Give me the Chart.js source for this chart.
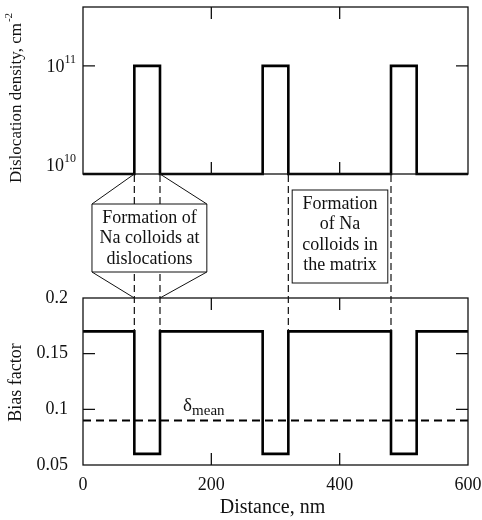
<!DOCTYPE html>
<html>
<head>
<meta charset="utf-8">
<script src="https://cdn.jsdelivr.net/npm/chart.js@4.4.0/dist/chart.umd.min.js"></script>
<style>
  html, body { margin: 0; padding: 0; background: #fff; }
  #wrap { width: 482px; height: 520px; }
</style>
</head>
<body>
<div id="wrap"><canvas id="chart" width="482" height="520"></canvas></div>
<script>
// ─── Data ────────────────────────────────────────────────────
const distance = [0, 80, 120, 280, 320, 480, 520, 600];
const density = [1e10, 1e11, 1e10, 1e11, 1e10, 1e11, 1e10, 1e10];
const bias = [0.17, 0.06, 0.17, 0.06, 0.17, 0.06, 0.17, 0.17];
const meanDistance = [0, 600];
const meanBias = [0.09, 0.09];

const distanceTicks = [0, 200, 400, 600];
const densityTicks = [1e10, 1e11];
const biasTicks = [0.05, 0.1, 0.15, 0.2];

// x of the zone edges that get the dashed guide lines
const dislocationZone = [80, 120];
const matrixZone = [320, 480];

const serif = '"Liberation Serif", "Times New Roman", serif';
const ink = '#111';

// ─── Frame, ticks and notes ──────────────────────────────────
const framePlugin = {
  id: 'frame',
  afterDraw(chart) {
    const { ctx, chartArea: ca, scales } = chart;
    const x = scales.x, yDen = scales.yDen, yBias = scales.yBias;
    const tick = 12;
    ctx.save();
    ctx.strokeStyle = ink;
    ctx.fillStyle = ink;

    // panel boxes + inner ticks
    const panels = [
      { s: yDen, ticks: [1e11] },
      { s: yBias, ticks: [0.1, 0.15] }
    ];
    panels.forEach(p => {
      ctx.lineWidth = 1.3;
      ctx.setLineDash([]);
      ctx.strokeRect(ca.left, p.s.top, ca.right - ca.left, p.s.bottom - p.s.top);
      ctx.beginPath();
      distanceTicks.slice(1, -1).forEach(v => {
        const px = x.getPixelForValue(v);
        ctx.moveTo(px, p.s.top); ctx.lineTo(px, p.s.top + tick);
        ctx.moveTo(px, p.s.bottom); ctx.lineTo(px, p.s.bottom - tick);
      });
      p.ticks.forEach(v => {
        const py = p.s.getPixelForValue(v);
        ctx.moveTo(ca.left, py); ctx.lineTo(ca.left + tick, py);
        ctx.moveTo(ca.right, py); ctx.lineTo(ca.right - tick, py);
      });
      ctx.stroke();
    });

    // log tick labels with superscripts
    densityTicks.forEach((v, i) => {
      const py = yDen.getPixelForValue(v) + (i === 0 ? -8 : 1);
      const exp = String(Math.round(Math.log10(v)));
      ctx.font = '18px ' + serif;
      const wBase = ctx.measureText('10').width;
      ctx.font = '12px ' + serif;
      const wExp = ctx.measureText(exp).width;
      const x0 = ca.left - 7 - wBase - wExp;
      ctx.textBaseline = 'middle';
      ctx.textAlign = 'left';
      ctx.font = '18px ' + serif;
      ctx.fillText('10', x0, py);
      ctx.font = '12px ' + serif;
      ctx.fillText(exp, x0 + wBase, py - 7);
    });

    // dashed guide lines between the panels
    const gapTop = yDen.bottom, gapBottom = yBias.top;
    const highBias = yBias.getPixelForValue(bias[0]);
    ctx.lineWidth = 1.2;
    ctx.setLineDash([7, 4]);
    ctx.beginPath();
    dislocationZone.concat(matrixZone).forEach(v => {
      const px = x.getPixelForValue(v);
      ctx.moveTo(px, gapTop + 1);
      ctx.lineTo(px, highBias);
    });
    ctx.stroke();
    ctx.setLineDash([]);

    // note box: colloids at dislocations (hexagon-ish outline)
    ctx.lineWidth = 1;
    const aL = x.getPixelForValue(dislocationZone[0]);
    const aR = x.getPixelForValue(dislocationZone[1]);
    const bL = x.getPixelForValue(14), bR = x.getPixelForValue(193);
    const bT = gapTop + 30, bB = gapTop + 98;
    ctx.fillStyle = '#fff';
    ctx.fillRect(bL, bT, bR - bL, bB - bT);
    ctx.fillStyle = ink;
    ctx.beginPath();
    ctx.moveTo(aL, gapTop); ctx.lineTo(bL, bT); ctx.lineTo(bL, bB); ctx.lineTo(aL, gapBottom);
    ctx.moveTo(aR, gapTop); ctx.lineTo(bR, bT); ctx.lineTo(bR, bB); ctx.lineTo(aR, gapBottom);
    ctx.moveTo(bL, bT); ctx.lineTo(bR, bT);
    ctx.moveTo(bL, bB); ctx.lineTo(bR, bB);
    ctx.stroke();

    ctx.font = '18px ' + serif;
    ctx.textAlign = 'center';
    ctx.textBaseline = 'middle';
    const cL = (bL + bR) / 2;
    ['Formation of', 'Na colloids at', 'dislocations'].forEach((t, i) => {
      ctx.fillText(t, cL, gapTop + 44 + i * 20.5);
    });

    // note box: colloids in the matrix
    const mL = x.getPixelForValue(326), mR = x.getPixelForValue(475);
    const mT = gapTop + 16, mB = gapTop + 109;
    ctx.fillStyle = '#fff';
    ctx.fillRect(mL, mT, mR - mL, mB - mT);
    ctx.fillStyle = ink;
    ctx.strokeRect(mL, mT, mR - mL, mB - mT);
    const cM = (mL + mR) / 2;
    ['Formation', 'of Na', 'colloids in', 'the matrix'].forEach((t, i) => {
      ctx.fillText(t, cM, gapTop + 30 + i * 20.5);
    });

    // delta mean label
    const yMean = yBias.getPixelForValue(meanBias[0]);
    const dx = x.getPixelForValue(156);
    ctx.textAlign = 'left';
    ctx.textBaseline = 'alphabetic';
    ctx.font = '19px ' + serif;
    ctx.fillText('δ', dx, yMean - 9);
    const wd = ctx.measureText('δ').width;
    ctx.font = '15px ' + serif;
    ctx.fillText('mean', dx + wd, yMean - 5);

    // axis titles
    ctx.save();
    ctx.translate(21, yDen.bottom + 9);
    ctx.rotate(-Math.PI / 2);
    ctx.font = '17px ' + serif;
    ctx.fillText('Dislocation density, cm', 0, 0);
    const wt = ctx.measureText('Dislocation density, cm').width;
    ctx.font = '11px ' + serif;
    ctx.fillText('-2', wt + 1, -9);
    ctx.restore();

    ctx.save();
    ctx.translate(21, (yBias.top + yBias.bottom) / 2 + 1);
    ctx.rotate(-Math.PI / 2);
    ctx.font = '18px ' + serif;
    ctx.textAlign = 'center';
    ctx.fillText('Bias factor', 0, 0);
    ctx.restore();

    ctx.font = '20px ' + serif;
    ctx.textAlign = 'center';
    ctx.fillText('Distance, nm', (ca.left + ca.right) / 2 - 3, 513);

    ctx.restore();
  }
};

// ─── Scales helpers ───────────────────────────────────────────
function fixTicks(values) {
  return scale => { scale.ticks = values.map(v => ({ value: v })); };
}
function fixWidth(scale) {
  scale.width = 83;
  scale.paddingTop = 0; scale.paddingBottom = 0;
}
const tickFont = { family: serif, size: 18 };

new Chart(document.getElementById('chart'), {
  type: 'line',
  data: {
    datasets: [
      {
        data: distance.map((d, i) => ({ x: d, y: density[i] })),
        yAxisID: 'yDen',
        stepped: 'before',
        borderColor: '#000',
        borderWidth: 2.6,
        pointRadius: 0,
        clip: 5
      },
      {
        data: distance.map((d, i) => ({ x: d, y: bias[i] })),
        yAxisID: 'yBias',
        stepped: 'before',
        borderColor: '#000',
        borderWidth: 2.6,
        pointRadius: 0,
        clip: 5
      },
      {
        data: meanDistance.map((d, i) => ({ x: d, y: meanBias[i] })),
        yAxisID: 'yBias',
        borderColor: '#000',
        borderWidth: 2,
        borderDash: [8, 5],
        pointRadius: 0
      }
    ]
  },
  options: {
    responsive: false,
    animation: false,
    layout: { padding: { left: 0, right: 14, top: 7, bottom: 0 } },
    plugins: { legend: { display: false }, tooltip: { enabled: false } },
    scales: {
      x: {
        type: 'linear',
        min: 0, max: 600,
        afterBuildTicks: fixTicks(distanceTicks),
        afterFit: s => { s.height = 55; s.paddingLeft = 0; s.paddingRight = 0; },
        grid: { display: false, drawTicks: false },
        border: { display: false },
        ticks: { font: tickFont, color: ink, padding: 9, maxRotation: 0, autoSkip: false }
      },
      // stacked axes are placed bottom-up in this order
      yBias: {
        type: 'linear',
        position: 'left',
        stack: 'panels',
        stackWeight: 167,
        min: 0.05, max: 0.2,
        afterBuildTicks: fixTicks(biasTicks),
        afterFit: fixWidth,
        grid: { display: false },
        border: { display: false },
        ticks: { font: tickFont, color: ink, padding: 7, callback: v => String(v) }
      },
      yGap: {
        type: 'linear',
        position: 'left',
        stack: 'panels',
        stackWeight: 124,
        afterFit: fixWidth,
        grid: { display: false },
        border: { display: false },
        ticks: { display: false }
      },
      yDen: {
        type: 'logarithmic',
        position: 'left',
        stack: 'panels',
        stackWeight: 167,
        min: 1e10, max: 3.5e11,
        afterBuildTicks: fixTicks(densityTicks),
        afterFit: fixWidth,
        grid: { display: false },
        border: { display: false },
        ticks: { display: false }
      }
    }
  },
  plugins: [framePlugin]
});
</script>
</body>
</html>
